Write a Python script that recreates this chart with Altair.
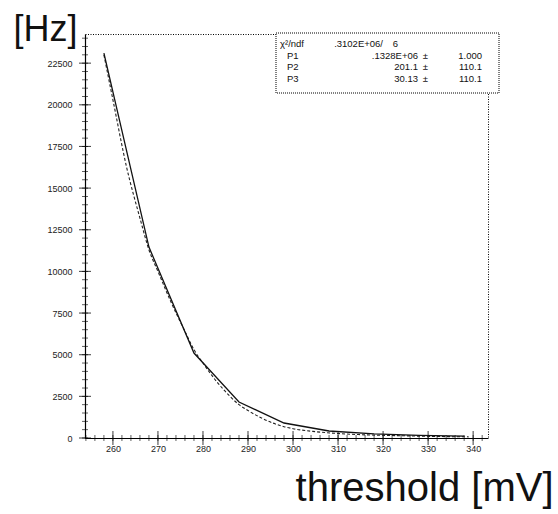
import altair as alt
import pandas as pd

# ---- data ----
data_x = [258, 268, 278, 288, 298, 308, 318, 328, 338]
data_y = [23100, 11460, 5100, 2160, 900, 420, 250, 160, 110]

fit_x = [258, 260, 263, 266, 268, 270, 273, 276, 278, 280, 283, 286, 288, 290,
         293, 296, 298, 300, 305, 310, 315, 320, 325, 330, 335, 339]
fit_y = [23000, 20300, 16300, 13200, 11300, 10000, 8100, 6400, 5300, 4500, 3400,
         2500, 2000, 1650, 1200, 850, 680, 560, 380, 270, 200, 160, 130, 100, 80, 70]

x_ticks = [260, 270, 280, 290, 300, 310, 320, 330, 340]
y_ticks = [0, 2500, 5000, 7500, 10000, 12500, 15000, 17500, 20000, 22500]
x_minor = list(range(254, 344, 2))
y_minor = list(range(0, 24001, 500))

stat_names = ["P1", "P2", "P3"]
stat_vals = [".1328E+06", "201.1", "30.13"]
stat_errs = ["1.000", "110.1", "110.1"]
chi_label = "\u03c7\u00b2/ndf"
chi_val = ".3102E+06/"
ndf = "6"

W, H = 403, 404
XDOM = [253.8, 343.3]
YDOM = [0, 24250]

xs = alt.Scale(domain=XDOM, nice=False, zero=False)
ys = alt.Scale(domain=YDOM, nice=False)

FONT = "Liberation Sans"

df_data = pd.DataFrame({"x": data_x, "y": data_y})
df_fit = pd.DataFrame({"x": fit_x, "y": fit_y})

base_axes = alt.Chart(df_data).mark_point(opacity=0).encode(
    x=alt.X("x:Q", scale=xs,
            axis=alt.Axis(values=x_ticks, title="threshold [mV]", tickSize=0,
                          grid=False, labelPadding=6, labelFontSize=9,
                          labelFont=FONT, labelColor="#222", format="d",
                          domainColor="black", domainWidth=1.2,
                          titleFont=FONT, titleFontSize=40, titleFontWeight="normal",
                          titleColor="#111", titleAlign="right",
                          titleBaseline="alphabetic", titleX=468, titleY=62)),
    y=alt.Y("y:Q", scale=ys,
            axis=alt.Axis(values=y_ticks, title="[Hz]", tickSize=0, grid=False,
                          labelPadding=13, labelFontSize=9, labelFont=FONT,
                          labelColor="#222", format="d",
                          domainColor="black", domainWidth=1.2,
                          titleFont=FONT, titleFontSize=36, titleFontWeight="normal",
                          titleColor="#111", titleAngle=0, titleAlign="left",
                          titleBaseline="alphabetic", titleX=-72, titleY=6)),
)

# inward ticks (drawn as tick marks through the shared scales)
xmaj = alt.Chart(pd.DataFrame({"tx": x_ticks})).mark_tick(
    color="black", thickness=1.1, size=14, orient="vertical").encode(
    x=alt.X("tx:Q", scale=xs), y=alt.value(H))
xmin = alt.Chart(pd.DataFrame({"tx": x_minor})).mark_tick(
    color="black", thickness=0.9, size=6, orient="vertical").encode(
    x=alt.X("tx:Q", scale=xs), y=alt.value(H))
ymaj = alt.Chart(pd.DataFrame({"ty": y_ticks})).mark_tick(
    color="black", thickness=1.1, size=12, orient="horizontal").encode(
    y=alt.Y("ty:Q", scale=ys), x=alt.value(0))
ymin = alt.Chart(pd.DataFrame({"ty": y_minor})).mark_tick(
    color="black", thickness=0.9, size=6, orient="horizontal").encode(
    y=alt.Y("ty:Q", scale=ys), x=alt.value(0))

data_line = alt.Chart(df_data).mark_line(color="#111", strokeWidth=1.3).encode(
    x=alt.X("x:Q", scale=xs), y=alt.Y("y:Q", scale=ys))
fit_line = alt.Chart(df_fit).mark_line(color="#222", strokeWidth=1.1,
                                        strokeDash=[3, 2], interpolate="monotone").encode(
    x=alt.X("x:Q", scale=xs), y=alt.Y("y:Q", scale=ys))

# stat box
bx0, bx1, by0, by1 = 191, 414, -1, 59
box = alt.Chart(pd.DataFrame({"a": [0]})).mark_rect(
    fill="white", stroke="black", strokeWidth=1, strokeDash=[1, 1]).encode(
    x=alt.value(bx0), x2=alt.value(bx1), y=alt.value(by0), y2=alt.value(by1))

TS = 9.5
texts = []
def txt(s, x, y, align):
    return alt.Chart(pd.DataFrame({"t": [s]})).mark_text(
        font=FONT, fontSize=TS, align=align, baseline="middle", color="#111").encode(
        text="t:N", x=alt.value(x), y=alt.value(y))

row_y = [10, 22, 33, 45]
texts.append(txt(chi_label, 195, row_y[0], "left"))
texts.append(txt(chi_val, 298, row_y[0], "right"))
texts.append(txt(ndf, 313, row_y[0], "right"))
for i in range(3):
    texts.append(txt(stat_names[i], 202, row_y[i + 1], "left"))
    texts.append(txt(stat_vals[i], 333, row_y[i + 1], "right"))
    texts.append(txt("\u00b1", 343, row_y[i + 1], "right"))
    texts.append(txt(stat_errs[i], 397, row_y[i + 1], "right"))

chart = alt.layer(base_axes, xmin, xmaj, ymin, ymaj, fit_line, data_line, box, *texts).properties(
    width=W, height=H,
    padding={"left": 85, "top": 34, "right": 70, "bottom": 76},
    autosize="none",
    background="white",
).configure_view(stroke="black", strokeWidth=1, strokeDash=[1, 1.5])

chart.save("out.html", embed_options={"renderer": "svg", "actions": False})
